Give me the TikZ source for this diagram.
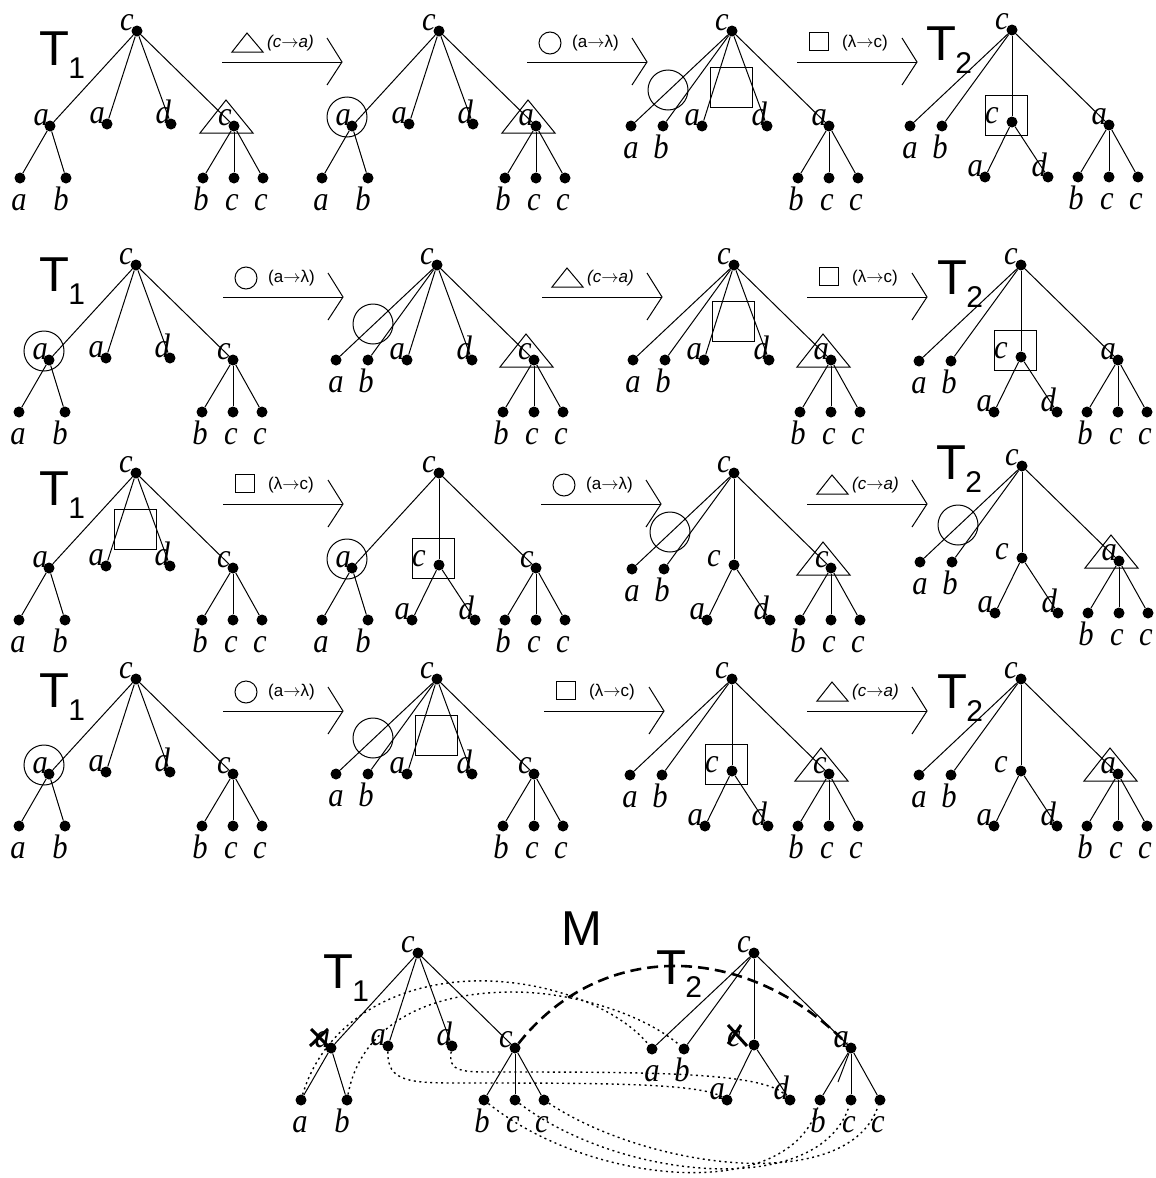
\documentclass[tikz,border=0pt]{standalone}
\usepackage{fontspec}
\setmainfont{Liberation Serif}
\newfontfamily\sansf{Liberation Sans}
\newfontfamily\labfam{Liberation Serif}[FakeStretch=0.9]
\usetikzlibrary{calc}
\newcommand\labfont{\labfam\fontsize{34}{34}\selectfont\itshape}
\newcommand\arrfont{\fontsize{17}{17}\selectfont\sansf}
\newcommand\rarr{\ensuremath{\rightarrow}}
\tikzset{
 vtx/.style={circle,fill=black,draw=none,inner sep=0pt,minimum size=11pt},
 tln/.style={line width=1pt},
 deco/.style={line width=1pt},
 tlab/.style={inner sep=0pt,anchor=base east,font=\labfont},
 blab/.style={inner sep=0pt,anchor=base,font=\labfont},
 arrtxt/.style={inner sep=0pt,anchor=west,font=\arrfont},
 tbig/.style={inner sep=0pt,font=\fontsize{49}{49}\selectfont\sansf},
 tsub/.style={inner sep=0pt,anchor=west,font=\fontsize{30}{30}\selectfont\sansf},
 dotl/.style={line width=1.4pt,dash pattern=on 2pt off 3.5pt},
 thdash/.style={line width=2.6pt,dash pattern=on 11pt off 6pt},
 xmark/.style={line width=3pt},
}
% root
\newcommand\RootC[1]{%
 \node[vtx] (#1-r) at (0,0) {};
 \node[tlab] (#1-rT) at (-3,-1) {c};}
% right subtree (b c c)
\newcommand\XSub[2]{%
 \node[vtx] (#1-ix) at (97,95) {};
 \node[vtx] (#1-ixb) at (66,147) {};
 \node[vtx] (#1-ixc) at (97,147) {};
 \node[vtx] (#1-ixd) at (126,147) {};
 \draw[tln] (#1-r) -- (#1-ix);
 \draw[tln] (#1-ix) -- (#1-ixb);
 \draw[tln] (#1-ix) -- (#1-ixc);
 \draw[tln] (#1-ix) -- (#1-ixd);
 \node[tlab] (#1-ixT) at (95,94) {#2};
 \node[blab] (#1-ixbT) at (64,179) {b};
 \node[blab] (#1-ixcT) at (95,179) {c};
 \node[blab] (#1-ixdT) at (124,179) {c};}
% left subtree a(a,b)
\newcommand\ASub[1]{%
 \node[vtx] (#1-ia) at (-87,95) {};
 \node[vtx] (#1-iaa) at (-117,147) {};
 \node[vtx] (#1-iab) at (-71,147) {};
 \draw[tln] (#1-r) -- (#1-ia);
 \draw[tln] (#1-ia) -- (#1-iaa);
 \draw[tln] (#1-ia) -- (#1-iab);
 \node[tlab] (#1-iaT) at (-88,94) {a};
 \node[blab] (#1-iaaT) at (-118,179) {a};
 \node[blab] (#1-iabT) at (-76,179) {b};}
% middle subtree c(a,d)
\newcommand\CSub[1]{%
 \node[vtx] (#1-ic) at (0,92) {};
 \node[vtx] (#1-ica) at (-27,147) {};
 \node[vtx] (#1-icd) at (36,147) {};
 \draw[tln] (#1-r) -- (#1-ic);
 \draw[tln] (#1-ic) -- (#1-ica);
 \draw[tln] (#1-ic) -- (#1-icd);
 \node[tlab] (#1-icT) at (-13,93) {c};
 \node[tlab] (#1-icaT) at (-29,146) {a};
 \node[tlab] (#1-icdT) at (35,146) {d};}
% trees
\newcommand\TreeA[2]{%
 \RootC{#1}\ASub{#1}
 \node[vtx] (#1-la) at (-30,93) {};
 \node[vtx] (#1-ld) at (34,93) {};
 \draw[tln] (#1-r) -- (#1-la);
 \draw[tln] (#1-r) -- (#1-ld);
 \node[tlab] (#1-laT) at (-32,92) {a};
 \node[tlab] (#1-ldT) at (34,92) {d};
 \XSub{#1}{#2}}
\newcommand\TreeB[2]{%
 \RootC{#1}
 \node[vtx] (#1-la) at (-101,95) {};
 \node[vtx] (#1-lb) at (-69,95) {};
 \node[vtx] (#1-lc) at (-30,95) {};
 \node[vtx] (#1-ld) at (35,95) {};
 \draw[tln] (#1-r) -- (#1-la);
 \draw[tln] (#1-r) -- (#1-lb);
 \draw[tln] (#1-r) -- (#1-lc);
 \draw[tln] (#1-r) -- (#1-ld);
 \node[blab] (#1-laT) at (-101,127) {a};
 \node[blab] (#1-lbT) at (-71,127) {b};
 \node[tlab] (#1-lcT) at (-32,94) {a};
 \node[tlab] (#1-ldT) at (35,94) {d};
 \XSub{#1}{#2}}
\newcommand\TreeC[2]{%
 \RootC{#1}\ASub{#1}\CSub{#1}\XSub{#1}{#2}}
\newcommand\TreeD[2]{%
 \RootC{#1}
 \node[vtx] (#1-la) at (-102,96) {};
 \node[vtx] (#1-lb) at (-70,96) {};
 \draw[tln] (#1-r) -- (#1-la);
 \draw[tln] (#1-r) -- (#1-lb);
 \node[blab] (#1-laT) at (-102,128) {a};
 \node[blab] (#1-lbT) at (-72,128) {b};
 \CSub{#1}\XSub{#1}{#2}}
% decorations
\newcommand\TriX{\draw[deco] (63,102) -- (116,102) -- (89,69) -- cycle;}
\newcommand\CircA{\draw[deco] (-92,86) circle[radius=20pt];}
\newcommand\CircB{\draw[deco] (-64,59) circle[radius=20pt];}
\newcommand\SqA{\draw[deco] (-22,36) rectangle (20,76);}
\newcommand\SqC{\draw[deco] (-27,65) rectangle (15,105);}
% arrow symbols
\newcommand\SymTri{\draw[deco] (10,-10) -- (41,-10) -- (25,-29) -- cycle;}
\newcommand\SymCirc{\draw[deco] (23,-19) circle[radius=11pt];}
\newcommand\SymSq{\draw[deco] (12,-30) rectangle (31,-12);}
\newcommand\Arr[5]{%
 \begin{scope}[shift={(#2,#3)}]
 \coordinate (#1-s) at (0,0);
 \coordinate (#1-e) at (120,0);
 \draw[tln] (#1-s) -- (#1-e);
 \draw[tln] (105,-24) -- (#1-e) -- (105,23);
 #4
 \node[arrtxt] (#1-t) at (45,-19) {#5};
 \end{scope}}
\newcommand\TL[4]{% name, x, y, subscript
 \node[tbig] (#1) at (#2,#3) {T};
 \node[tsub] (#1-sub) at ($(#1.east)+(-1,19)$) {#4};}
\begin{document}
\begin{tikzpicture}[x=1pt,y=-1pt]
\useasboundingbox (0,0) rectangle (1156,1178);
\fill[white] (0,0) rectangle (1156,1178);
% ===== Row 1
\begin{scope}[shift={(137,31)}]\TreeA{a1}{c}\TriX\end{scope}
\Arr{r1a}{222}{62}{\SymTri}{\itshape (c\rarr a)}
\begin{scope}[shift={(439,31)}]\TreeA{a2}{a}\CircA\TriX\end{scope}
\Arr{r1b}{527}{62}{\SymCirc}{(a\rarr λ)}
\begin{scope}[shift={(732,31)}]\TreeB{a3}{a}\CircB\SqA\end{scope}
\Arr{r1c}{797}{62}{\SymSq}{(λ\rarr c)}
\begin{scope}[shift={(1012,30)}]\TreeD{a4}{a}\SqC\end{scope}
\TL{t11}{54}{49}{1}
\TL{t12}{941}{44}{2}
% ===== Row 2
\begin{scope}[shift={(136,265)}]\TreeA{b1}{c}\CircA\end{scope}
\Arr{r2a}{223}{297}{\SymCirc}{(a\rarr λ)}
\begin{scope}[shift={(437,265)}]\TreeB{b2}{c}\CircB\TriX\end{scope}
\Arr{r2b}{542}{297}{\SymTri}{\itshape (c\rarr a)}
\begin{scope}[shift={(734,265)}]\TreeB{b3}{a}\SqA\TriX\end{scope}
\Arr{r2c}{807}{297}{\SymSq}{(λ\rarr c)}
\begin{scope}[shift={(1021,265)}]\TreeD{b4}{a}\SqC\end{scope}
\TL{t21}{54}{275}{1}
\TL{t22}{952}{278}{2}
% ===== Row 3
\begin{scope}[shift={(136,473)}]\TreeA{c1}{c}\SqA\end{scope}
\Arr{r3a}{223}{504}{\SymSq}{(λ\rarr c)}
\begin{scope}[shift={(439,473)}]\TreeC{c2}{c}\CircA\SqC\end{scope}
\Arr{r3b}{541}{504}{\SymCirc}{(a\rarr λ)}
\begin{scope}[shift={(734,473)}]\TreeD{c3}{c}\CircB\TriX\end{scope}
\Arr{r3c}{807}{504}{\SymTri}{\itshape (c\rarr a)}
\begin{scope}[shift={(1022,466)}]\TreeD{c4}{a}\CircB\TriX\end{scope}
\TL{t31}{54}{489}{1}
\TL{t32}{951}{463}{2}
% ===== Row 4
\begin{scope}[shift={(136,679)}]\TreeA{d1}{c}\CircA\end{scope}
\Arr{r4a}{223}{711}{\SymCirc}{(a\rarr λ)}
\begin{scope}[shift={(437,679)}]\TreeB{d2}{c}\CircB\SqA\end{scope}
\Arr{r4b}{544}{711}{\SymSq}{(λ\rarr c)}
\begin{scope}[shift={(732,679)}]\TreeD{d3}{c}\SqC\TriX\end{scope}
\Arr{r4c}{807}{711}{\SymTri}{\itshape (c\rarr a)}
\begin{scope}[shift={(1021,679)}]\TreeD{d4}{a}\TriX\end{scope}
\TL{t41}{54}{691}{1}
\TL{t42}{952}{692}{2}
% ===== Bottom mapping
\begin{scope}[shift={(418,953)}]\TreeA{m1}{c}\end{scope}
\begin{scope}[shift={(754,953)}]\TreeD{m2}{a}\end{scope}
\coordinate (m2-stub) at (838,1082);
\draw[tln] (m2-ix) -- (m2-stub);
\TL{tm1}{338}{972}{1}
\TL{tm2}{671}{968}{2}
\node[tbig] (mlab) at (582,929) {M};
% crosses
\draw[xmark] (311,1029) -- (329,1047);
\draw[xmark] (310,1046) -- (328,1029);
\draw[xmark] (728,1025) -- (747,1046);
\draw[xmark] (728,1044) -- (741,1025);
% dashed correspondence
\draw[thdash] (m1-ix) .. controls (600,940) and (745,940) .. (m2-ix);
% dotted correspondences
\draw[dotl] (m1-iaa) .. controls (325,1020) and (400,978) .. (490,981) .. controls (565,984) and (625,1015) .. (m2-la);
\draw[dotl] (m1-iab) .. controls (360,1030) and (420,992) .. (513,992) .. controls (575,992) and (645,1015) .. (m2-lb);
\draw[dotl] (m1-la) .. controls (387,1082) and (410,1083) .. (460,1083) .. controls (600,1083) and (700,1083) .. (m2-ica);
\draw[dotl] (m1-ld) .. controls (448,1072) and (462,1072) .. (495,1072) .. controls (650,1072) and (765,1072) .. (m2-icd);
\draw[dotl] (m1-ixb) .. controls (590,1185) and (790,1205) .. (m2-ixb);
\draw[dotl] (m1-ixc) .. controls (620,1180) and (820,1200) .. (m2-ixc);
\draw[dotl] (m1-ixd) .. controls (650,1170) and (850,1195) .. (m2-ixd);
\end{tikzpicture}
\end{document}
